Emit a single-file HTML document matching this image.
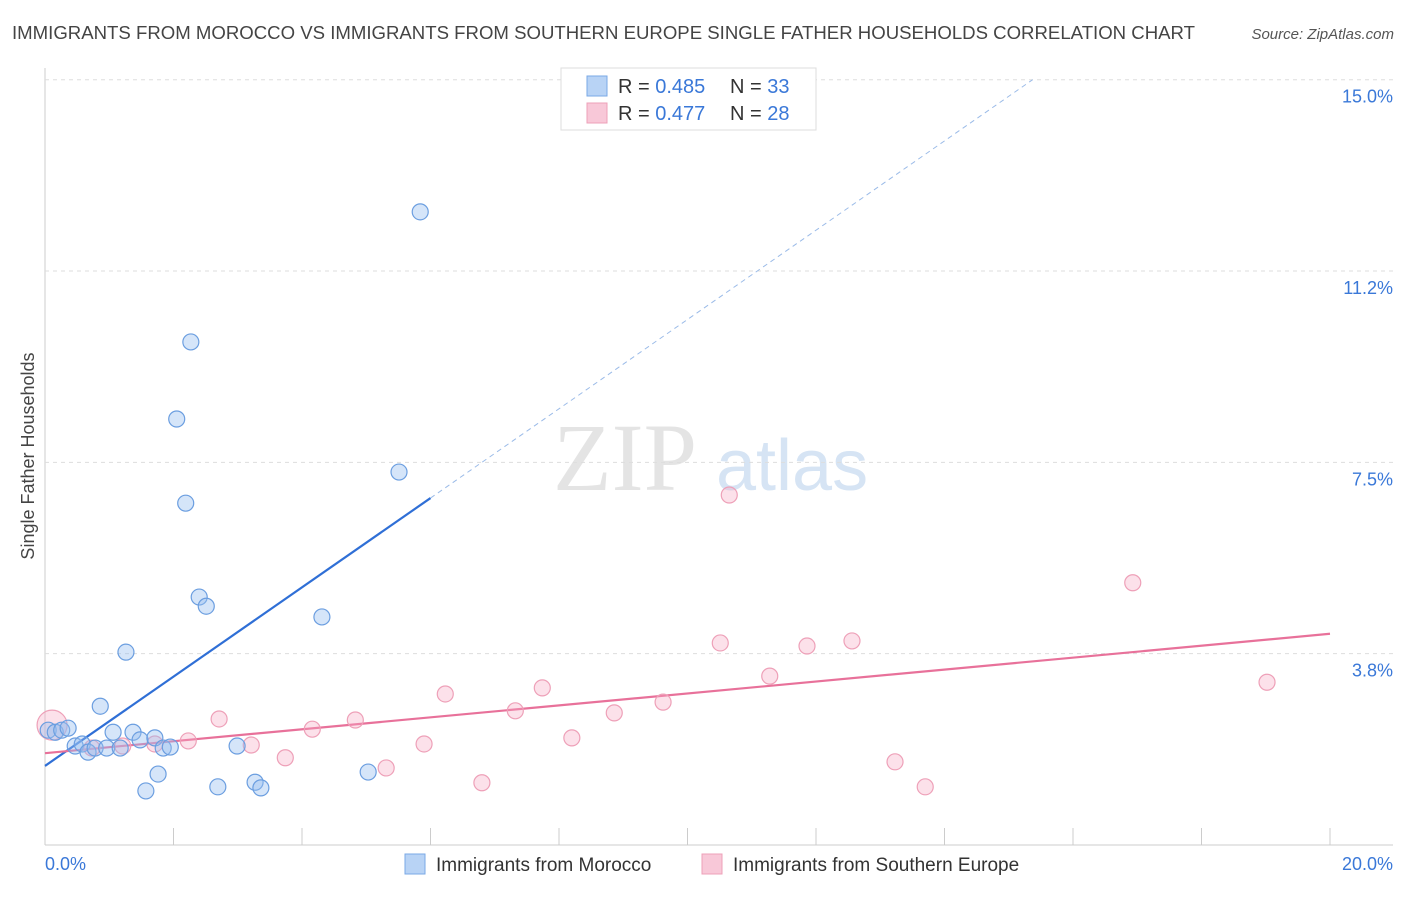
<!DOCTYPE html>
<html><head><meta charset="utf-8"><style>
body{margin:0;background:#fff;font-family:"Liberation Sans",sans-serif;}
</style></head><body>
<svg id="c" width="1406" height="892" xmlns="http://www.w3.org/2000/svg" font-family="Liberation Sans, sans-serif">
<text x="12" y="39" font-size="18" fill="#444" textLength="1183" lengthAdjust="spacingAndGlyphs">IMMIGRANTS FROM MOROCCO VS IMMIGRANTS FROM SOUTHERN EUROPE SINGLE FATHER HOUSEHOLDS CORRELATION CHART</text>
<text x="1394" y="39" font-size="15" fill="#555" font-style="italic" text-anchor="end">Source: ZipAtlas.com</text>
<text x="553" y="490" font-size="96" fill="#e4e4e4" font-family="Liberation Serif, serif">ZIP</text>
<text x="716" y="490" font-size="72" fill="#d6e4f4">atlas</text>
<text transform="translate(34,456) rotate(-90)" font-size="18" fill="#444" text-anchor="middle">Single Father Households</text>
<g id="grid"></g><g id="lines"></g><g id="pts"></g>
<g>
<rect x="561" y="68" width="255" height="62" fill="#fff" stroke="#ddd"/>
<rect x="587" y="76" width="20" height="20" fill="#b8d3f5" stroke="#7aa8e6"/>
<text x="618" y="93" font-size="20" fill="#333">R = <tspan fill="#3a78d8">0.485</tspan></text>
<text x="730" y="93" font-size="20" fill="#333">N = <tspan fill="#3a78d8">33</tspan></text>
<rect x="587" y="103" width="20" height="20" fill="#f8c8d8" stroke="#eea0b8"/>
<text x="618" y="120" font-size="20" fill="#333">R = <tspan fill="#3a78d8">0.477</tspan></text>
<text x="730" y="120" font-size="20" fill="#333">N = <tspan fill="#3a78d8">28</tspan></text>
</g>
<g>
<rect x="405" y="854" width="20" height="20" fill="#b8d3f5" stroke="#7aa8e6"/>
<text x="436" y="871" font-size="19" fill="#333">Immigrants from Morocco</text>
<rect x="702" y="854" width="20" height="20" fill="#f8c8d8" stroke="#eea0b8"/>
<text x="733" y="871" font-size="19" fill="#333">Immigrants from Southern Europe</text>
</g>
</svg>
<script>
const blueX=[0.05,0.16,0.26,0.36,0.47,0.58,0.67,0.78,0.86,0.96,1.06,1.17,1.26,1.37,1.48,1.57,1.71,1.76,1.84,1.95,2.05,2.19,2.27,2.40,2.51,2.69,2.99,3.27,3.36,4.31,5.03,5.51,5.84];
const blueY=[2.25,2.21,2.25,2.29,1.94,1.98,1.82,1.90,2.72,1.90,2.21,1.90,3.78,2.21,2.06,1.06,2.10,1.39,1.90,1.92,8.35,6.70,9.86,4.86,4.68,1.14,1.94,1.23,1.12,4.47,1.43,7.31,12.41];
const pinkX=[0.11,0.73,1.21,1.71,2.23,2.71,3.21,3.74,4.16,4.83,5.31,5.90,6.23,6.80,7.32,7.74,8.20,8.86,9.62,10.51,10.65,11.28,11.86,12.56,13.23,13.70,16.93,19.02];
const pinkY=[2.35,1.90,1.94,1.98,2.04,2.47,1.96,1.71,2.27,2.45,1.51,1.98,2.96,1.22,2.63,3.08,2.10,2.59,2.80,3.96,6.86,3.31,3.90,4.00,1.63,1.14,5.14,3.19];
const yTicks=[3.75,7.5,11.25,15];
const yTickLabels=["3.8%","7.5%","11.2%","15.0%"];
const xTicks=[2,4,6,8,10,12,14,16,18,20];
const blueLine=[1.55,0.875]; // intercept, slope
const pinkLine=[1.80,0.117];
const NS="http://www.w3.org/2000/svg";
const sx=v=>45+v/20*1285, sy=v=>845-v*51.02;
function mk(p,t,a){const e=document.createElementNS(NS,t);for(const k in a)e.setAttribute(k,a[k]);p.appendChild(e);return e;}
const g=document.getElementById('grid');
let ax=mk(g,'line',{x1:45,y1:68,x2:45,y2:845,stroke:'#ccc'});

let bx=mk(g,'line',{x1:45,y1:845,x2:1393,y2:845,stroke:'#ccc'});

yTicks.forEach((v,i)=>{
 const l=mk(g,'line',{x1:45,y1:sy(v),x2:1393,y2:sy(v),stroke:'#ddd','stroke-dasharray':'4,4'});
 
 const t=mk(g,'text',{x:1393,y:sy(v)+23,'font-size':18,fill:'#3a78d8','text-anchor':'end'});t.textContent=yTickLabels[i];
 
});
xTicks.forEach(v=>{const l=mk(g,'line',{x1:sx(v),y1:828,x2:sx(v),y2:845,stroke:'#ccc'});
 });
let t0=mk(g,'text',{x:45,y:870,'font-size':18,fill:'#3a78d8'});t0.textContent='0.0%';

let t1=mk(g,'text',{x:1393,y:870,'font-size':18,fill:'#3a78d8','text-anchor':'end'});t1.textContent='20.0%';

const L=document.getElementById('lines');
const f=(c,x)=>c[0]+c[1]*x;
let b1=mk(L,'line',{x1:sx(0),y1:sy(f(blueLine,0)),x2:sx(6),y2:sy(f(blueLine,6)),stroke:'#2f6fd6','stroke-width':2.2});

const xe=(15-blueLine[0])/blueLine[1];
let b2=mk(L,'line',{x1:sx(6),y1:sy(f(blueLine,6)),x2:sx(xe),y2:sy(15),stroke:'#9bbbe8','stroke-width':1,'stroke-dasharray':'5,4'});

let p1=mk(L,'line',{x1:sx(0),y1:sy(f(pinkLine,0)),x2:sx(20),y2:sy(f(pinkLine,20)),stroke:'#e8719a','stroke-width':2.2});

const P=document.getElementById('pts');
pinkX.forEach((x,i)=>{const c=mk(P,'circle',{cx:sx(x),cy:sy(pinkY[i]),r:i==0?15:8,fill:'rgba(245,170,195,0.35)',stroke:'#eea0b8','stroke-width':1.2});
 });
blueX.forEach((x,i)=>{const c=mk(P,'circle',{cx:sx(x),cy:sy(blueY[i]),r:8,fill:'rgba(150,190,240,0.4)',stroke:'#6b9ee0','stroke-width':1.2});
 });
</script>
</body></html>
